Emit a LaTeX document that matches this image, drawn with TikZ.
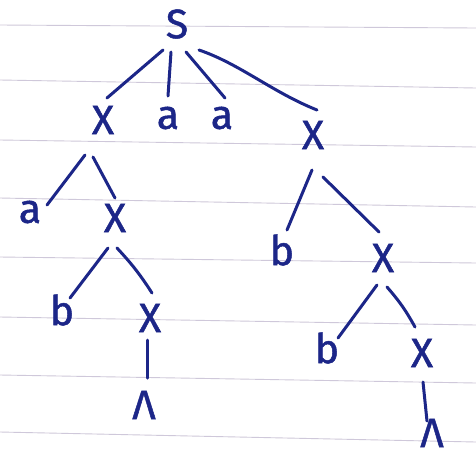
\documentclass[tikz,border=0pt]{standalone}
\usepackage{fontspec}
\setmainfont{Fira Sans}[FakeBold=1.2]
\definecolor{ink}{HTML}{1C2688}
\definecolor{rule}{HTML}{CFC8DA}
\tikzset{
  sym/.style={text=ink, inner sep=1pt, font=\fontsize{41}{41}\selectfont},
  edge/.style={draw=ink, line width=3pt, line cap=round},
  ruled/.style={draw=rule, line width=0.9pt}
}
\begin{document}
\begin{tikzpicture}[x=1pt,y=-1pt]
\useasboundingbox (0,0) rectangle (476,459);
\fill[white] (0,0) rectangle (476,459);
% ruled paper lines
\draw[ruled] (0,25) -- (476,28);
\draw[ruled] (0,80) -- (476,88);
\draw[ruled] (0,140) -- (476,147);
\draw[ruled] (0,198) -- (476,207);
\draw[ruled] (0,257) -- (476,263);
\draw[ruled] (0,317) -- (476,325);
\draw[ruled] (0,375) -- (476,383);
\draw[ruled] (0,432) -- (476,442);
% nodes
\node[sym] (S)  at (177,24) {S};
\node[sym] (X1) at (103,120) {X};
\node[sym] (A1) at (168,118) {a};
\node[sym] (A2) at (222,118) {a};
\node[sym] (X2) at (313,135) {X};
\node[sym] (A3) at (30,212) {a};
\node[sym] (X3) at (115,218) {X};
\node[sym] (B1) at (282,250) {b};
\node[sym] (X4) at (383,258) {X};
\node[sym] (B2) at (62,310) {b};
\node[sym] (X5) at (150,318) {X};
\node[sym] (B3) at (327,348) {b};
\node[sym] (X6) at (422,353) {X};
\node[sym] (L1) at (144,405) {Λ};
\node[sym] (L2) at (432,433) {Λ};
% edges
\draw[edge] ([shift={(-14,26)}]S.center) -- ([shift={(4,-22)}]X1.center);
\draw[edge] ([shift={(-6,28)}]S.center) -- ([shift={(0,-22)}]A1.center);
\draw[edge] ([shift={(9,28)}]S.center) -- ([shift={(3,-20)}]A2.center);
\draw[edge] ([shift={(22,26)}]S.center) .. controls (240,64) and (272,92) .. ([shift={(4,-25)}]X2.center);
\draw[edge] ([shift={(-18,35)}]X1.center) -- ([shift={(17,-7)}]A3.center);
\draw[edge] ([shift={(-10,37)}]X1.center) -- ([shift={(0,-20)}]X3.center);
\draw[edge] ([shift={(-1,35)}]X2.center) -- ([shift={(5,-20)}]B1.center);
\draw[edge] ([shift={(10,42)}]X2.center) -- ([shift={(-4,-26)}]X4.center);
\draw[edge] ([shift={(-7,30)}]X3.center) -- ([shift={(8,-12)}]B2.center);
\draw[edge] ([shift={(2,30)}]X3.center) to[bend left=5] ([shift={(2,-25)}]X5.center);
\draw[edge] ([shift={(-6,27)}]X4.center) -- ([shift={(11,-10)}]B3.center);
\draw[edge] ([shift={(4,29)}]X4.center) to[bend left=6] ([shift={(-7,-26)}]X6.center);
\draw[edge] ([shift={(-3,22)}]X5.center) -- ([shift={(3,-27)}]L1.center);
\draw[edge] ([shift={(1,29)}]X6.center) -- ([shift={(-5,-12)}]L2.center);
\end{tikzpicture}
\end{document}
